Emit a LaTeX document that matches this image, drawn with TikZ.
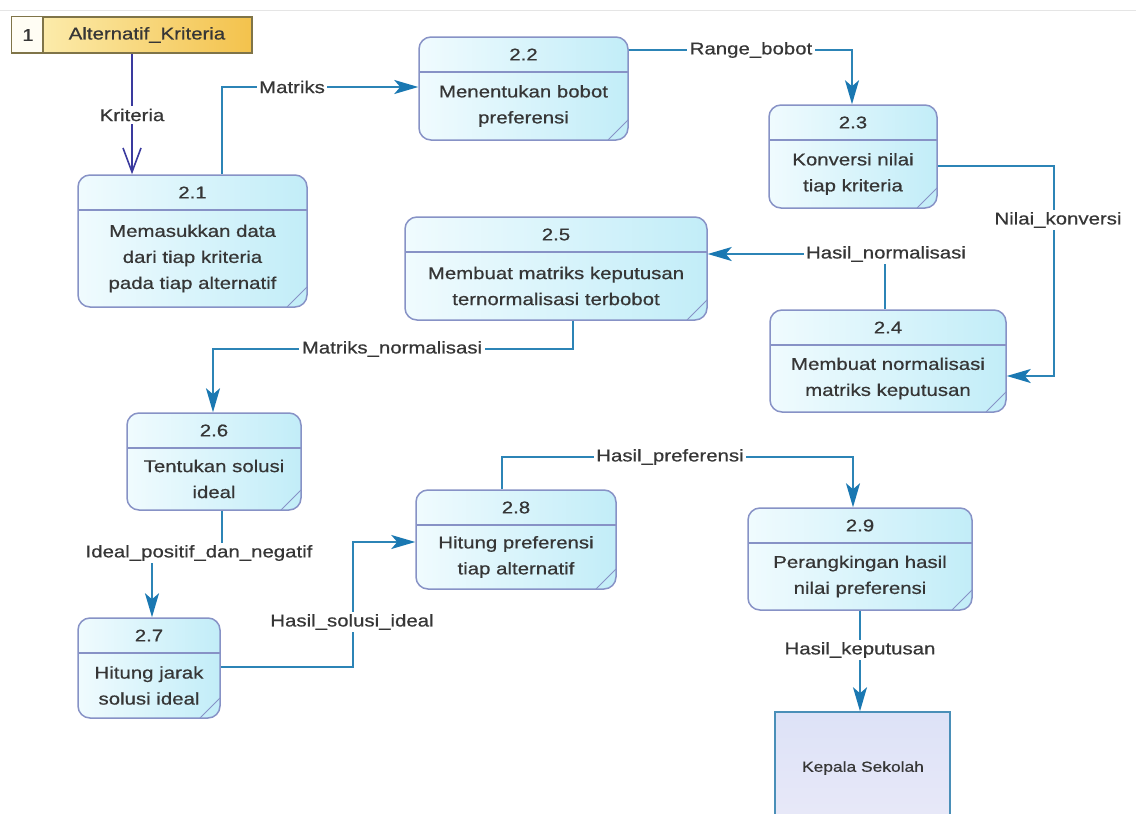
\documentclass[tikz,border=0pt]{standalone}
\usepackage{fontspec}
\setmainfont{Liberation Sans}[FakeStretch=1.2, FakeBold=0.6]
\usetikzlibrary{arrows.meta,calc}

\definecolor{boxline}{HTML}{8792C6}
\definecolor{boxlight}{HTML}{F0FBFE}
\definecolor{boxcyan}{HTML}{C2EDF8}
\definecolor{flowblue}{HTML}{2C84B6}
\definecolor{tipblue}{HTML}{1A78B2}
\definecolor{navyline}{HTML}{3A3A9E}
\definecolor{txt}{HTML}{363636}
\definecolor{entline}{HTML}{7F7448}
\definecolor{entlight}{HTML}{FDF1B8}
\definecolor{entgold}{HTML}{F3C24C}
\definecolor{extline}{HTML}{4A8FB8}
\definecolor{extfill}{HTML}{DDE2F7}
\definecolor{extfill2}{HTML}{ECEBF9}

\tikzset{
  txtnode/.style={text=txt, font=\fontsize{17}{26}\selectfont, inner sep=0pt},
  procbox/.style={draw=boxline, line width=1.5pt, rounded corners=12pt,
    left color=boxlight, right color=boxcyan, inner sep=0pt,
    path picture={
      \draw[boxline, line width=1.3pt, sharp corners]
        ([yshift=-35pt]path picture bounding box.north west) --
        ([yshift=-35pt]path picture bounding box.north east);
      \draw[boxline, line width=1pt, sharp corners]
        ([xshift=-20pt]path picture bounding box.south east) --
        ([yshift=20pt]path picture bounding box.south east);
    }},
  flow/.style={draw=flowblue, line width=1.8pt,
    -{Stealth[length=24pt, width=14pt, inset=6pt, color=tipblue]}},
  critflow/.style={draw=navyline, line width=1.6pt,
    -{Straight Barb[length=24pt, width=18pt, line width=1.6pt]}},
  flowlabel/.style={txtnode, fill=white, inner sep=2.5pt},
}

% process bubble: name, left, top, right, bottom, number, description
\newcommand\dfdprocess[7]{%
  \node[procbox, minimum width={#4-#2}, minimum height={#5-#3}]
    (#1) at ({(#2+#4)/2},{(#3+#5)/2}) {};
  \node[txtnode] (#1-num) at ({(#2+#4)/2},{#3+17.5}) {#6};
  \node[txtnode, align=center] (#1-text) at ({(#2+#4)/2},{(#3+35+#5)/2}) {#7};
}

\begin{document}
\begin{tikzpicture}[x=1pt, y=-1pt]
  \clip (0,0) rectangle (1136,814);
  \fill[white] (0,0) rectangle (1136,814);
  \draw[black!10, line width=1pt] (0,10) -- (1136,10);

  % data store
  \node[draw=entline, line width=1.5pt, left color=entlight, right color=entgold,
        minimum width=240, minimum height=36, inner sep=0pt] (ent) at (132,35) {};
  \fill[white!85!entlight] ([shift={(0.75pt,-0.75pt)}]ent.north west) rectangle (43,52.25);
  \draw[entline, line width=1.3pt] (43,17) -- (43,53);
  \node[txtnode] (ent-num) at (28,35) {1};
  \node[txtnode] (ent-name) at (147,35) {Alternatif\_Kriteria};

  % processes
  \dfdprocess{p21}{78}{175}{307}{307}{2.1}{Memasukkan data\\dari tiap kriteria\\pada tiap alternatif}
  \dfdprocess{p22}{419}{37}{628}{140}{2.2}{Menentukan bobot\\preferensi}
  \dfdprocess{p23}{769}{105}{937}{208}{2.3}{Konversi nilai\\tiap kriteria}
  \dfdprocess{p24}{770}{310}{1006}{412}{2.4}{Membuat normalisasi\\matriks keputusan}
  \dfdprocess{p25}{405}{217}{707}{320}{2.5}{Membuat matriks keputusan\\ternormalisasi terbobot}
  \dfdprocess{p26}{127}{413}{301}{510}{2.6}{Tentukan solusi\\ideal}
  \dfdprocess{p27}{78}{618}{220}{718}{2.7}{Hitung jarak\\solusi ideal}
  \dfdprocess{p28}{416}{490}{616}{589}{2.8}{Hitung preferensi\\tiap alternatif}
  \dfdprocess{p29}{748}{508}{972}{610}{2.9}{Perangkingan hasil\\nilai preferensi}

  % external entity
  \node[draw=extline, line width=1.5pt, top color=extfill, bottom color=extfill2,
        minimum width=175, minimum height=150, inner sep=0pt] (kepala) at (862.5,787) {};
  \node[text=txt, font=\fontsize{14.5}{16}\selectfont, inner sep=0pt] (kepala-name) at (863,768) {Kepala Sekolah};

  % bend points of the flows
  \coordinate (cKr) at (132,0);
  \coordinate (cM)  at (222,87);
  \coordinate (cR)  at (852,50);
  \coordinate (cN)  at (1054,166);
  \coordinate (cN2) at (1054,376);
  \coordinate (cH)  at (885,254);
  \coordinate (cMN1) at (573,349);
  \coordinate (cMN2) at (213,349);
  \coordinate (cI1) at (222,553);
  \coordinate (cI2) at (152,553);
  \coordinate (cS1) at (353,667);
  \coordinate (cS2) at (353,542);
  \coordinate (cP1) at (502,457);
  \coordinate (cP2) at (853,457);
  \coordinate (cK)  at (860,0);

  % flows
  \draw[critflow] (ent.south -| cKr) -- (p21.north -| cKr);
  \draw[flow] (p21.north -| cM) |- (p22.west |- cM);
  \draw[flow] (p22.east |- cR) -| (p23.north -| cR);
  \draw[flow] (p23.east |- cN) -| (cN2) -- (p24.east |- cN2);
  \draw[flow] (p24.north -| cH) |- (p25.east |- cH);
  \draw[flow] (p25.south -| cMN1) |- (cMN2) -- (p26.north -| cMN2);
  \draw[flow] (p26.south -| cI1) |- (cI2) -- (p27.north -| cI2);
  \draw[flow] (p27.east |- cS1) -| (cS2) -- (p28.west |- cS2);
  \draw[flow] (p28.north -| cP1) |- (cP2) -- (p29.north -| cP2);
  \draw[flow] (p29.south -| cK) -- (kepala.north -| cK);

  % flow labels
  \node[flowlabel] (l-kriteria) at (132,115) {Kriteria};
  \node[flowlabel] (l-matriks) at (292,87) {Matriks};
  \node[flowlabel] (l-range) at (751,50) {Range\_bobot};
  \node[flowlabel] (l-nilai) at (1058,220) {Nilai\_konversi};
  \node[flowlabel] (l-hnorm) at (886,254) {Hasil\_normalisasi};
  \node[flowlabel] (l-mnorm) at (392,349) {Matriks\_normalisasi};
  \node[flowlabel] (l-ideal) at (199,553) {Ideal\_positif\_dan\_negatif};
  \node[flowlabel] (l-solusi) at (352,622) {Hasil\_solusi\_ideal};
  \node[flowlabel] (l-pref) at (670,457) {Hasil\_preferensi};
  \node[flowlabel] (l-keputusan) at (860,650) {Hasil\_keputusan};
\end{tikzpicture}
\end{document}
